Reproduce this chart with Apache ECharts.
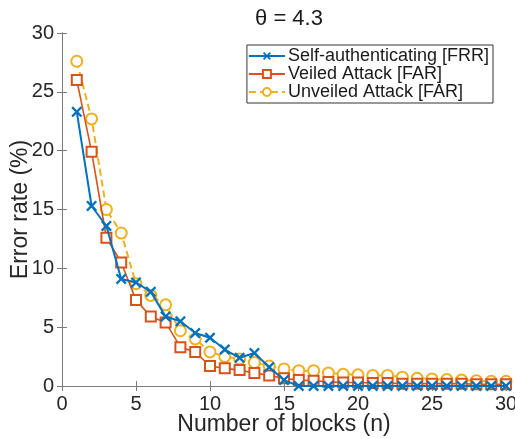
<!DOCTYPE html>
<html>
<head>
<meta charset="utf-8">
<script src="https://cdn.jsdelivr.net/npm/echarts@6/dist/echarts.min.js"></script>
<style>
    html, body { margin: 0; padding: 0; background: #fff; }
    #lineChart { width: 515px; height: 439px; }
</style>
</head>
<body>
<div id="lineChart"></div>
<script>
    // number of blocks n
    const blocks = [1, 2, 3, 4, 5, 6, 7, 8, 9, 10, 11, 12, 13, 14, 15,
        16, 17, 18, 19, 20, 21, 22, 23, 24, 25, 26, 27, 28, 29, 30];

    const selfAuthFRR = [23.3, 15.3, 13.6, 9.1, 8.8, 8.0, 5.9, 5.5, 4.5, 4.1, 3.1, 2.4, 2.8, 1.6, 0.5,
        0, 0, 0, 0, 0, 0, 0, 0, 0, 0, 0, 0, 0, 0, 0];

    const veiledFAR = [26.0, 19.9, 12.6, 10.5, 7.3, 5.9, 5.4, 3.3, 2.9, 1.7, 1.5, 1.35, 1.1, 0.9, 0.65,
        0.5, 0.45, 0.35, 0.3, 0.3, 0.25, 0.25, 0.2, 0.2, 0.2, 0.2, 0.2, 0.15, 0.15, 0.15];

    const unveiledFAR = [27.6, 22.7, 15.0, 13.0, 8.7, 7.7, 6.9, 4.7, 4.0, 2.9, 2.5, 2.3, 2.0, 1.7, 1.45,
        1.3, 1.3, 1.1, 1.0, 0.95, 0.9, 0.9, 0.75, 0.65, 0.6, 0.55, 0.5, 0.45, 0.4, 0.4];

    const seriesNames = ['Self-authenticating [FRR]', 'Veiled Attack [FAR]', 'Unveiled Attack [FAR]'];
    const tickLabels = ['0', '5', '10', '15', '20', '25', '30'];

    const color = ['#0072BD', '#D95319', '#EDB120'];
    const font = 'Liberation Sans, Arial, Helvetica, sans-serif';
    const crossPath = 'path://M0,1.5L1.5,0L5,3.5L8.5,0L10,1.5L6.5,5L10,8.5L8.5,10L5,6.5L1.5,10L0,8.5L3.5,5Z';

    const toPairs = arr => blocks.map((b, i) => [b, arr[i]]);

    const axisColor = '#7a7a7a';
    const baseAxis = {
        type: 'value',
        min: 0,
        max: 30,
        interval: 5,
        axisLine: { show: true, lineStyle: { color: axisColor, width: 1 } },
        axisTick: { show: true, inside: true, length: 5, lineStyle: { color: axisColor } },
        splitLine: { show: false },
    };

    const option = {
        color,
        animation: false,
        textStyle: { fontFamily: font },
        title: {
            text: 'θ = 4.3',
            left: 284,
            textAlign: 'center',
            top: 3,
            textStyle: { fontFamily: font, fontSize: 22, fontWeight: 'normal', color: '#1a1a1a' }
        },
        grid: {
            left: 62,
            right: 9,
            top: 33,
            bottom: 53,
            containLabel: false,
            outerBoundsMode: 'none'
        },
        legend: {
            orient: 'vertical',
            right: 22,
            top: 45,
            backgroundColor: '#fff',
            borderColor: '#333',
            borderWidth: 1,
            padding: [2, 4, 2, 1],
            itemGap: 0,
            itemWidth: 36,
            itemHeight: 10,
            textStyle: { fontFamily: font, fontSize: 18, lineHeight: 18, color: '#1a1a1a', padding: [0, 0, 0, -2] },
            data: seriesNames
        },
        xAxis: [
            Object.assign({}, baseAxis, {
                position: 'bottom',
                name: 'Number of blocks (n)',
                nameLocation: 'middle',
                nameGap: 27,
                nameMoveOverlap: false,
                nameTextStyle: { fontFamily: font, fontSize: 23, color: '#262626' },
                axisLabel: {
                    fontFamily: font, fontSize: 20, color: '#262626', margin: 8,
                    formatter: v => tickLabels[v / 5]
                }
            }),
            Object.assign({}, baseAxis, {
                position: 'top',
                axisLabel: { show: false }
            })
        ],
        yAxis: [
            Object.assign({}, baseAxis, {
                position: 'left',
                name: 'Error rate (%)',
                nameLocation: 'middle',
                nameGap: 30,
                nameMoveOverlap: false,
                nameTextStyle: { fontFamily: font, fontSize: 23, color: '#262626' },
                axisLabel: {
                    fontFamily: font, fontSize: 20, color: '#262626', margin: 8,
                    formatter: v => tickLabels[v / 5]
                }
            }),
            Object.assign({}, baseAxis, {
                position: 'right',
                axisLabel: { show: false }
            })
        ],
        series: [
            {
                name: seriesNames[0],
                type: 'line',
                data: toPairs(selfAuthFRR),
                symbol: crossPath,
                symbolSize: 11,
                showAllSymbol: true,
                lineStyle: { color: color[0], width: 2 },
                itemStyle: { color: color[0] },
                z: 4
            },
            {
                name: seriesNames[1],
                type: 'line',
                data: toPairs(veiledFAR),
                symbol: 'emptyRect',
                symbolSize: 10,
                showAllSymbol: true,
                lineStyle: { color: color[1], width: 1.6 },
                itemStyle: { color: color[1], borderWidth: 1.6 },
                z: 3
            },
            {
                name: seriesNames[2],
                type: 'line',
                data: toPairs(unveiledFAR),
                symbol: 'emptyCircle',
                symbolSize: 11,
                showAllSymbol: true,
                lineStyle: { color: color[2], width: 2, type: [7, 4] },
                itemStyle: { color: color[2], borderWidth: 2 },
                z: 2
            }
        ]
    };

    const myChart = echarts.init(document.getElementById('lineChart'));
    myChart.setOption(option);
</script>
</body>
</html>
